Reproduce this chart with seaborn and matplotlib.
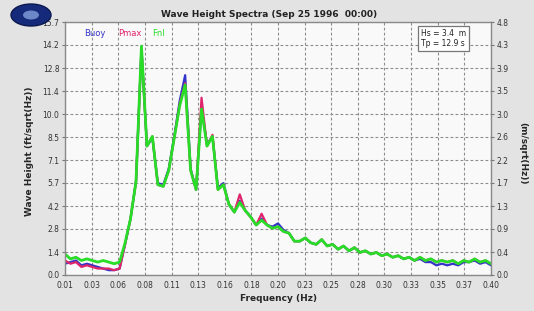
import numpy as np
import pandas as pd
import matplotlib
matplotlib.use("Agg")
import matplotlib.pyplot as plt
from matplotlib.patches import Ellipse
import seaborn as sns

# ---------------- data ----------------
freq = [0.010, 0.015, 0.020, 0.025, 0.030, 0.035, 0.040, 0.045, 0.050, 0.055,
        0.060, 0.065, 0.070, 0.075, 0.080, 0.085, 0.090, 0.095, 0.100, 0.105,
        0.110, 0.115, 0.120, 0.125, 0.130, 0.135, 0.140, 0.145, 0.150, 0.155,
        0.160, 0.165, 0.170, 0.175, 0.180, 0.185, 0.190, 0.195, 0.200, 0.205,
        0.210, 0.215, 0.220, 0.225, 0.230, 0.235, 0.240, 0.245, 0.250, 0.255,
        0.260, 0.265, 0.270, 0.275, 0.280, 0.285, 0.290, 0.295, 0.300, 0.305,
        0.310, 0.315, 0.320, 0.325, 0.330, 0.335, 0.340, 0.345, 0.350, 0.355,
        0.360, 0.365, 0.370, 0.375, 0.380, 0.385, 0.390, 0.395, 0.400]

buoy = [0.7, 0.8, 0.9, 0.6, 0.7, 0.6, 0.5, 0.4, 0.3, 0.3,
        0.4, 1.9, 3.5, 5.8, 14.1, 8.0, 8.5, 5.7, 5.6, 6.6,
        8.6, 10.8, 12.4, 6.6, 5.3, 10.4, 8.1, 8.6, 5.4, 5.7,
        4.4, 3.9, 4.6, 4.0, 3.6, 3.1, 3.5, 3.1, 3.0, 3.2,
        2.8, 2.6, 2.1, 2.1, 2.3, 2.0, 1.9, 2.2, 1.8, 1.9,
        1.6, 1.8, 1.5, 1.7, 1.4, 1.5, 1.3, 1.4, 1.2, 1.3,
        1.1, 1.2, 1.0, 1.1, 0.9, 1.0, 0.8, 0.8, 0.6, 0.7,
        0.6, 0.7, 0.6, 0.8, 0.8, 0.9, 0.7, 0.8, 0.6]

pmax = [0.9, 0.7, 0.8, 0.5, 0.6, 0.5, 0.4, 0.4, 0.4, 0.3,
        0.4, 1.9, 3.5, 5.8, 14.0, 8.0, 8.6, 5.6, 5.5, 6.5,
        8.5, 10.6, 11.9, 6.5, 5.3, 11.0, 8.0, 8.7, 5.3, 5.6,
        4.4, 3.9, 5.0, 4.0, 3.6, 3.1, 3.8, 3.1, 2.9, 3.0,
        2.7, 2.6, 2.1, 2.1, 2.3, 2.0, 1.9, 2.2, 1.8, 1.9,
        1.6, 1.8, 1.5, 1.7, 1.4, 1.5, 1.3, 1.4, 1.2, 1.3,
        1.1, 1.2, 1.0, 1.1, 0.9, 1.1, 0.9, 1.0, 0.8, 0.9,
        0.8, 0.9, 0.7, 0.9, 0.8, 1.0, 0.8, 0.9, 0.7]

fnl = [1.3, 1.0, 1.1, 0.9, 1.0, 0.9, 0.8, 0.9, 0.8, 0.7,
       0.8, 2.0, 3.5, 5.8, 14.2, 8.0, 8.6, 5.6, 5.5, 6.5,
       8.5, 10.5, 11.8, 6.5, 5.3, 10.3, 8.0, 8.6, 5.3, 5.6,
       4.4, 3.9, 4.5, 4.0, 3.6, 3.1, 3.4, 3.1, 2.9, 3.0,
       2.7, 2.6, 2.1, 2.1, 2.3, 2.0, 1.9, 2.2, 1.8, 1.9,
       1.6, 1.8, 1.5, 1.7, 1.4, 1.5, 1.3, 1.4, 1.2, 1.3,
       1.1, 1.2, 1.0, 1.1, 0.9, 1.1, 0.9, 1.0, 0.8, 0.9,
       0.8, 0.9, 0.7, 0.9, 0.8, 1.0, 0.8, 0.9, 0.7]

series_names = ["Buoy", "Pmax", "Fnl"]
series_colors = ["#3434c8", "#e0246c", "#28dc28"]

x_tick_labels = ["0.01", "0.03", "0.06", "0.08", "0.11", "0.13", "0.16", "0.18",
                 "0.20", "0.23", "0.25", "0.28", "0.30", "0.33", "0.35", "0.37", "0.40"]
left_tick_labels = ["0.0", "1.4", "2.8", "4.2", "5.7", "7.1", "8.5", "10.0",
                    "11.4", "12.8", "14.2", "15.7"]
right_tick_labels = ["0.0", "0.4", "0.9", "1.3", "1.7", "2.2", "2.6", "3.0",
                     "3.5", "3.9", "4.3", "4.8"]
x_min, x_max = 0.01, 0.40
left_max = 15.7
right_max = 4.8

title = "Wave Height Spectra (Sep 25 1996  00:00)"
stats_text = "Hs = 3.4  m\nTp = 12.9 s"

# ---------------- frame ----------------
df = pd.DataFrame({
    "freq": freq * 3,
    "value": buoy + pmax + fnl,
    "series": [series_names[0]] * len(freq) + [series_names[1]] * len(freq)
              + [series_names[2]] * len(freq),
})

sns.set_style("white")
plt.rcParams["font.family"] = ["DejaVu Sans"]

W, H = 534, 311
fig = plt.figure(figsize=(W / 100, H / 100), dpi=100, facecolor="#e3e3e3")
ax = fig.add_axes([65 / W, 36 / H, 426 / W, 253 / H])
ax.set_facecolor("#f9f9f9")

sns.lineplot(data=df, x="freq", y="value", hue="series", hue_order=series_names,
             palette=series_colors, estimator=None, sort=False, ax=ax,
             linewidth=1.6, legend=False)
for ln, lw in zip(ax.get_lines(), [1.6, 1.6, 2.0]):
    ln.set_linewidth(lw)

ax.set_xlim(x_min, x_max)
ax.set_ylim(0, left_max)
xt = np.linspace(x_min, x_max, len(x_tick_labels))
ax.set_xticks(xt)
ax.set_xticklabels(x_tick_labels)
yt = np.linspace(0, left_max, len(left_tick_labels))
ax.set_yticks(yt)
ax.set_yticklabels(left_tick_labels)

ax.grid(True, color="#8c8c8c", linestyle=(0, (2.5, 2)), linewidth=0.8)
ax.set_axisbelow(True)
for s in ax.spines.values():
    s.set_color("#8a8a8a")
    s.set_linewidth(1.0)
ax.tick_params(axis="both", labelsize=5.5, colors="#333333", length=2.5,
               direction="out", pad=1.5)
ax.tick_params(axis="both", color="#777777")

ax2 = ax.twinx()
ax2.set_ylim(0, right_max)
ax2.set_yticks(np.linspace(0, right_max, len(right_tick_labels)))
ax2.set_yticklabels(right_tick_labels)
ax2.tick_params(axis="y", labelsize=5.5, colors="#333333", length=2.5, pad=1.5)
ax2.tick_params(axis="y", color="#777777")
for s in ax2.spines.values():
    s.set_visible(False)

ax.set_xlabel("Frequency (Hz)", fontsize=6.5, fontweight="bold", labelpad=3)
ax.set_ylabel("Wave Height (ft/sqrt(Hz))", fontsize=6.5, fontweight="bold")
ax.yaxis.set_label_coords(-0.072, 0.49)
ax2.set_ylabel("(m/sqrt(Hz))", fontsize=6.5, fontweight="bold", rotation=270,
               va="center")
ax2.yaxis.set_label_coords(1.075, 0.48)

ax.text(0.48, 1.028, title, transform=ax.transAxes, ha="center", va="center",
        fontsize=6.5, fontweight="bold", color="#222222")

for name, col, xf in zip(series_names, series_colors, [0.045, 0.125, 0.205]):
    ax.text(xf, 0.955, name, transform=ax.transAxes, ha="left", va="center",
            fontsize=6, color=col)

ax.text(0.835, 0.935, stats_text, transform=ax.transAxes, ha="left",
        va="center", fontsize=5.5, color="#222222", linespacing=1.2,
        bbox=dict(boxstyle="square,pad=0.35", facecolor="white",
                  edgecolor="#777777", linewidth=0.9))

# logo
logo = Ellipse((31 / W, 1 - 15 / H), 40 / W, 22 / H, transform=fig.transFigure,
               facecolor="#152a7a", edgecolor="#0b1850", zorder=10)
fig.patches.append(logo)
inner = Ellipse((31 / W, 1 - 15 / H), 16 / W, 9 / H, transform=fig.transFigure,
                facecolor="#6d88c8", edgecolor="none", zorder=11)
fig.patches.append(inner)

fig.savefig("out.png", dpi=100, facecolor=fig.get_facecolor())
